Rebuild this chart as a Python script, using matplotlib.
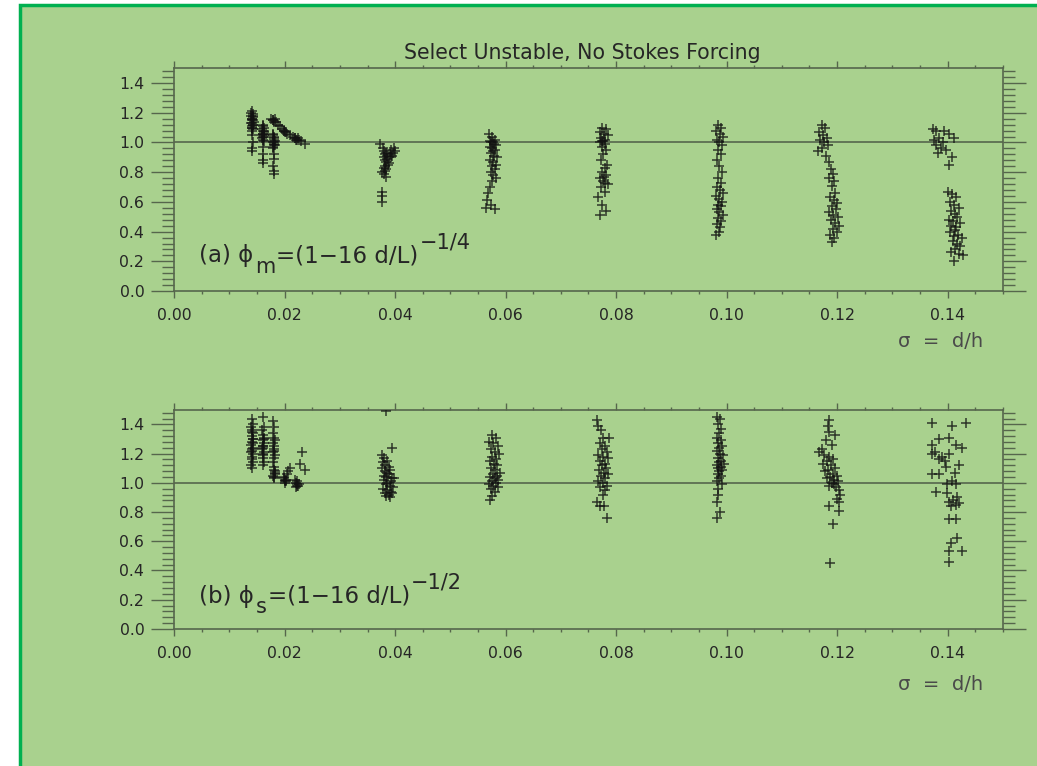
import numpy as np
import matplotlib.pyplot as plt
from matplotlib.ticker import MultipleLocator, FormatStrFormatter
from matplotlib.patches import Rectangle

# colours
BG = '#a9d18e'
EDGE = '#00b050'
AXC = '#56664c'
TXT = '#262626'
PTS = '#111111'

# ---- (a) phi_m = (1-16 d/L)^(-1/4), grouped by sigma = d/h run ----
sig_a1 = [0.0140, 0.0142, 0.0139, 0.0143, 0.0141, 0.0140, 0.0144, 0.0139,
          0.0142, 0.0141, 0.0140, 0.0143, 0.0141, 0.0142, 0.0140, 0.0141,
          0.0139, 0.0142, 0.0141, 0.0143, 0.0140, 0.0142, 0.0141, 0.0140]
phi_a1 = [1.21, 1.19, 1.18, 1.17, 1.16, 1.15, 1.14, 1.13,
          1.12, 1.11, 1.10, 1.09, 1.05, 1.00, 0.96, 0.94,
          1.20, 1.18, 1.16, 1.15, 1.13, 1.12, 1.10, 1.08]

sig_a2 = [0.0160, 0.0162, 0.0159, 0.0161, 0.0163, 0.0160, 0.0162, 0.0161,
          0.0159, 0.0162, 0.0160, 0.0161, 0.0160, 0.0161, 0.0160, 0.0162,
          0.0161, 0.0159, 0.0163, 0.0161]
phi_a2 = [1.12, 1.10, 1.09, 1.08, 1.07, 1.06, 1.05, 1.04,
          1.03, 1.01, 0.97, 0.92, 0.88, 0.86, 1.11, 1.08,
          1.06, 1.05, 1.04, 1.02]

sig_a3 = [0.0178, 0.0180, 0.0179, 0.0181, 0.0180, 0.0182, 0.0179, 0.0181,
          0.0180, 0.0178, 0.0181, 0.0180, 0.0179, 0.0180, 0.0181, 0.0179,
          0.0181, 0.0180, 0.0182, 0.0178]
phi_a3 = [1.15, 1.14, 1.06, 1.04, 1.03, 1.01, 1.00, 0.99,
          0.98, 0.96, 0.92, 0.89, 0.84, 0.81, 0.79, 1.05,
          1.02, 1.00, 0.98, 0.97]

sig_a4 = [0.0176, 0.0184, 0.0187, 0.0192, 0.0196, 0.0199, 0.0202, 0.0205,
          0.0210, 0.0215, 0.0219, 0.0222, 0.0225, 0.0230, 0.0236, 0.0179,
          0.0182, 0.0198, 0.0201, 0.0219, 0.0221, 0.0224]
phi_a4 = [1.16, 1.14, 1.12, 1.11, 1.09, 1.08, 1.07, 1.06,
          1.05, 1.04, 1.03, 1.02, 1.02, 1.01, 0.99, 1.15,
          1.16, 1.08, 1.07, 1.03, 1.02, 1.03]

sig_a5 = [0.0373, 0.0378, 0.0380, 0.0383, 0.0386, 0.0390, 0.0393, 0.0396,
          0.0398, 0.0400, 0.0379, 0.0382, 0.0385, 0.0388, 0.0392, 0.0395,
          0.0381, 0.0384, 0.0387, 0.0377, 0.0380, 0.0383, 0.0376, 0.0377,
          0.0376, 0.0381, 0.0384, 0.0379, 0.0382]
phi_a5 = [0.99, 0.96, 0.94, 0.93, 0.91, 0.92, 0.95, 0.93,
          0.96, 0.94, 0.90, 0.88, 0.89, 0.86, 0.90, 0.91,
          0.84, 0.82, 0.85, 0.80, 0.79, 0.77, 0.67, 0.64,
          0.60, 0.92, 0.87, 0.83, 0.81]

sig_a6 = [0.0570, 0.0575, 0.0580, 0.0572, 0.0578, 0.0583, 0.0571, 0.0576,
          0.0581, 0.0574, 0.0579, 0.0584, 0.0572, 0.0577, 0.0582, 0.0575,
          0.0580, 0.0573, 0.0578, 0.0583, 0.0576, 0.0571, 0.0568, 0.0566,
          0.0573, 0.0580, 0.0565, 0.0574, 0.0579, 0.0577]
phi_a6 = [1.06, 1.04, 1.02, 1.01, 1.00, 0.98, 0.97, 0.96,
          0.95, 0.93, 0.91, 0.90, 0.88, 0.87, 0.85, 0.84,
          0.82, 0.80, 0.78, 0.76, 0.74, 0.70, 0.66, 0.61,
          0.58, 0.55, 0.56, 1.00, 0.99, 0.94]

sig_a7 = [0.0775, 0.0782, 0.0770, 0.0778, 0.0785, 0.0773, 0.0780, 0.0776,
          0.0771, 0.0779, 0.0774, 0.0781, 0.0777, 0.0772, 0.0784, 0.0779,
          0.0775, 0.0782, 0.0770, 0.0777, 0.0786, 0.0773, 0.0779, 0.0768,
          0.0775, 0.0781, 0.0771, 0.0774, 0.0778, 0.0780]
phi_a7 = [1.10, 1.09, 1.07, 1.06, 1.05, 1.03, 1.02, 1.01,
          1.00, 0.99, 0.97, 0.95, 0.92, 0.88, 0.85, 0.83,
          0.80, 0.78, 0.76, 0.74, 0.72, 0.70, 0.67, 0.63,
          0.58, 0.54, 0.51, 1.01, 0.77, 0.73]

sig_a8 = [0.0985, 0.0990, 0.0980, 0.0988, 0.0993, 0.0983, 0.0987, 0.0991,
          0.0984, 0.0989, 0.0982, 0.0986, 0.0992, 0.0985, 0.0990, 0.0983,
          0.0988, 0.0994, 0.0981, 0.0986, 0.0991, 0.0984, 0.0989, 0.0982,
          0.0987, 0.0993, 0.0985, 0.0990, 0.0983, 0.0988, 0.0986, 0.0981]
phi_a8 = [1.12, 1.10, 1.08, 1.06, 1.04, 1.02, 1.00, 0.98,
          0.95, 0.92, 0.88, 0.84, 0.80, 0.76, 0.73, 0.70,
          0.68, 0.66, 0.64, 0.62, 0.60, 0.58, 0.57, 0.55,
          0.53, 0.51, 0.49, 0.47, 0.45, 0.43, 0.40, 0.38]

sig_a9 = [0.1172, 0.1178, 0.1168, 0.1175, 0.1182, 0.1170, 0.1177, 0.1183,
          0.1173, 0.1165, 0.1180, 0.1186, 0.1189, 0.1193, 0.1185, 0.1195,
          0.1190, 0.1197, 0.1188, 0.1194, 0.1200, 0.1191, 0.1198, 0.1186,
          0.1193, 0.1202, 0.1189, 0.1196, 0.1204, 0.1192, 0.1199, 0.1187,
          0.1195, 0.1190]
phi_a9 = [1.12, 1.10, 1.07, 1.05, 1.03, 1.02, 1.00, 0.98,
          0.96, 0.94, 0.91, 0.87, 0.82, 0.79, 0.76, 0.74,
          0.71, 0.66, 0.63, 0.61, 0.59, 0.57, 0.55, 0.53,
          0.51, 0.50, 0.48, 0.46, 0.44, 0.42, 0.40, 0.38,
          0.36, 0.33]

sig_a10 = [0.1373, 0.1380, 0.1394, 0.1402, 0.1376, 0.1385, 0.1391, 0.1379,
           0.1388, 0.1397, 0.1412, 0.1383, 0.1408, 0.1403,
           0.1400, 0.1408, 0.1415, 0.1404, 0.1412, 0.1420, 0.1406, 0.1414,
           0.1418, 0.1402, 0.1410, 0.1422, 0.1407, 0.1416, 0.1413, 0.1405,
           0.1419, 0.1411, 0.1426, 0.1409, 0.1417, 0.1423, 0.1413, 0.1406,
           0.1420, 0.1428, 0.1412]
phi_a10 = [1.09, 1.08, 1.08, 1.06, 1.02, 1.03, 1.00, 0.98,
           0.96, 0.95, 1.03, 0.93, 0.90, 0.85,
           0.67, 0.65, 0.63, 0.60, 0.58, 0.56, 0.54, 0.52,
           0.50, 0.48, 0.47, 0.46, 0.44, 0.43, 0.41, 0.40,
           0.38, 0.37, 0.36, 0.34, 0.32, 0.30, 0.28, 0.26,
           0.25, 0.24, 0.20]

# ---- (b) phi_s = (1-16 d/L)^(-1/2) ----
sig_b1 = [0.0140, 0.0142, 0.0139, 0.0141, 0.0143, 0.0140, 0.0142, 0.0141,
          0.0139, 0.0143, 0.0140, 0.0142, 0.0141, 0.0140, 0.0142, 0.0139,
          0.0141, 0.0143, 0.0140, 0.0142, 0.0141, 0.0139]
phi_b1 = [1.44, 1.40, 1.38, 1.36, 1.34, 1.32, 1.30, 1.28,
          1.26, 1.24, 1.22, 1.20, 1.18, 1.16, 1.14, 1.12,
          1.10, 1.30, 1.35, 1.27, 1.23, 1.21]

sig_b2 = [0.0160, 0.0162, 0.0159, 0.0161, 0.0163, 0.0160, 0.0162, 0.0161,
          0.0159, 0.0162, 0.0160, 0.0161, 0.0163, 0.0160, 0.0161, 0.0162,
          0.0160, 0.0161]
phi_b2 = [1.45, 1.38, 1.36, 1.33, 1.31, 1.29, 1.27, 1.25,
          1.23, 1.21, 1.19, 1.17, 1.14, 1.12, 1.25, 1.30,
          1.24, 1.20]

sig_b3 = [0.0179, 0.0181, 0.0178, 0.0180, 0.0182, 0.0179, 0.0181, 0.0180,
          0.0178, 0.0182, 0.0180, 0.0179, 0.0181, 0.0180, 0.0182, 0.0179,
          0.0181, 0.0180, 0.0183, 0.0181, 0.0182]
phi_b3 = [1.42, 1.38, 1.34, 1.31, 1.29, 1.27, 1.25, 1.23,
          1.21, 1.19, 1.17, 1.14, 1.11, 1.09, 1.07, 1.05,
          1.03, 1.22, 1.06, 1.04, 1.08]

sig_b4 = [0.0199, 0.0201, 0.0203, 0.0200, 0.0202, 0.0198, 0.0206, 0.0210,
          0.0204, 0.0220, 0.0222, 0.0224, 0.0221, 0.0223, 0.0225, 0.0231,
          0.0236, 0.0228, 0.0219, 0.0200, 0.0222]
phi_b4 = [1.03, 1.02, 1.01, 1.00, 1.02, 1.04, 1.08, 1.10,
          1.06, 1.00, 0.99, 0.98, 0.97, 1.01, 0.99, 1.21,
          1.09, 1.13, 1.02, 1.01, 0.98]

sig_b5 = [0.0383, 0.0395, 0.0376, 0.0380, 0.0385, 0.0378, 0.0382, 0.0388,
          0.0377, 0.0381, 0.0386, 0.0391, 0.0379, 0.0384, 0.0389, 0.0394,
          0.0380, 0.0386, 0.0392, 0.0397, 0.0383, 0.0390, 0.0396, 0.0378,
          0.0385, 0.0393, 0.0381, 0.0388, 0.0395, 0.0384, 0.0391]
phi_b5 = [1.49, 1.24, 1.19, 1.17, 1.15, 1.14, 1.12, 1.11,
          1.10, 1.08, 1.07, 1.09, 1.05, 1.04, 1.06, 1.03,
          1.02, 1.00, 1.01, 1.03, 0.99, 0.98, 0.97, 0.96,
          0.95, 0.94, 0.93, 0.92, 0.93, 0.91, 0.90]

sig_b6 = [0.0575, 0.0582, 0.0570, 0.0578, 0.0586, 0.0573, 0.0580, 0.0588,
          0.0576, 0.0583, 0.0571, 0.0579, 0.0585, 0.0574, 0.0581, 0.0589,
          0.0577, 0.0584, 0.0572, 0.0580, 0.0587, 0.0575, 0.0582, 0.0569,
          0.0578, 0.0586, 0.0573, 0.0581, 0.0576, 0.0571]
phi_b6 = [1.33, 1.31, 1.28, 1.27, 1.25, 1.23, 1.21, 1.20,
          1.18, 1.16, 1.15, 1.13, 1.12, 1.10, 1.09, 1.07,
          1.06, 1.05, 1.04, 1.03, 1.02, 1.01, 1.00, 0.99,
          0.98, 0.97, 0.96, 0.94, 0.91, 0.88]

sig_b7 = [0.0766, 0.0768, 0.0772, 0.0776, 0.0788, 0.0770, 0.0779, 0.0774,
          0.0783, 0.0768, 0.0777, 0.0785, 0.0771, 0.0780, 0.0775, 0.0782,
          0.0769, 0.0778, 0.0786, 0.0773, 0.0780, 0.0767, 0.0776, 0.0784,
          0.0771, 0.0779, 0.0776, 0.0765, 0.0770, 0.0778, 0.0783]
phi_b7 = [1.43, 1.39, 1.36, 1.31, 1.31, 1.27, 1.25, 1.23,
          1.21, 1.19, 1.18, 1.17, 1.15, 1.13, 1.12, 1.10,
          1.09, 1.07, 1.06, 1.05, 1.03, 1.01, 1.00, 0.98,
          0.97, 0.95, 0.92, 0.87, 0.84, 0.84, 0.76]

sig_b8 = [0.0982, 0.0988, 0.0984, 0.0990, 0.0986, 0.0983, 0.0989, 0.0985,
          0.0991, 0.0987, 0.0982, 0.0988, 0.0993, 0.0984, 0.0990, 0.0986,
          0.0995, 0.0983, 0.0989, 0.0985, 0.0992, 0.0987, 0.0984, 0.0990,
          0.0986, 0.0983, 0.0991, 0.0985, 0.0984, 0.0983, 0.0988, 0.0982]
phi_b8 = [1.45, 1.44, 1.40, 1.37, 1.34, 1.31, 1.29, 1.27,
          1.25, 1.24, 1.22, 1.20, 1.19, 1.17, 1.15, 1.14,
          1.13, 1.12, 1.11, 1.10, 1.09, 1.08, 1.06, 1.05,
          1.03, 1.01, 0.99, 0.96, 0.92, 0.87, 0.80, 0.76]

sig_b9 = [0.1186, 0.1183, 0.1185, 0.1197, 0.1172, 0.1168, 0.1180, 0.1190,
          0.1177, 0.1186, 0.1193, 0.1182, 0.1175, 0.1189, 0.1196, 0.1184,
          0.1179, 0.1192, 0.1199, 0.1187, 0.1181, 0.1194, 0.1201, 0.1190,
          0.1185, 0.1198, 0.1203, 0.1195, 0.1206, 0.1200, 0.1204, 0.1186,
          0.1204, 0.1193, 0.1188]
phi_b9 = [1.43, 1.39, 1.35, 1.33, 1.23, 1.21, 1.29, 1.26,
          1.19, 1.18, 1.16, 1.15, 1.13, 1.12, 1.10, 1.09,
          1.08, 1.06, 1.05, 1.04, 1.03, 1.02, 1.01, 1.00,
          0.98, 0.97, 0.95, 0.99, 0.92, 0.89, 0.87, 0.84,
          0.81, 0.72, 0.45]

sig_b10 = [0.1372, 0.1408, 0.1434, 0.1385, 0.1403, 0.1372, 0.1416, 0.1427,
           0.1378, 0.1403, 0.1371, 0.1385, 0.1398, 0.1421, 0.1371, 0.1385,
           0.1414, 0.1408, 0.1399, 0.1416, 0.1380, 0.1399, 0.1418, 0.1403,
           0.1410, 0.1415, 0.1407, 0.1420, 0.1403, 0.1416, 0.1407, 0.1417,
           0.1403, 0.1427, 0.1403, 0.1390, 0.1395]
phi_b10 = [1.41, 1.39, 1.41, 1.30, 1.31, 1.26, 1.26, 1.24,
           1.21, 1.20, 1.20, 1.16, 1.11, 1.12, 1.06, 1.06,
           1.07, 1.01, 0.99, 0.99, 0.94, 0.93, 0.90, 0.87,
           0.88, 0.85, 0.84, 0.86, 0.75, 0.75, 0.59, 0.62,
           0.53, 0.53, 0.46, 1.18, 1.15]

sig_a = np.concatenate([sig_a1, sig_a2, sig_a3, sig_a4, sig_a5,
                        sig_a6, sig_a7, sig_a8, sig_a9, sig_a10])
phi_a = np.concatenate([phi_a1, phi_a2, phi_a3, phi_a4, phi_a5,
                        phi_a6, phi_a7, phi_a8, phi_a9, phi_a10])
sig_b = np.concatenate([sig_b1, sig_b2, sig_b3, sig_b4, sig_b5,
                        sig_b6, sig_b7, sig_b8, sig_b9, sig_b10])
phi_b = np.concatenate([phi_b1, phi_b2, phi_b3, phi_b4, phi_b5,
                        phi_b6, phi_b7, phi_b8, phi_b9, phi_b10])


def style_axes(ax):
    ax.set_facecolor('none')
    ax.set_xlim(0.0, 0.15)
    ax.set_ylim(0.0, 1.5)
    ax.xaxis.set_major_locator(MultipleLocator(0.02))
    ax.xaxis.set_minor_locator(MultipleLocator(0.005))
    ax.yaxis.set_major_locator(MultipleLocator(0.2))
    ax.yaxis.set_minor_locator(MultipleLocator(0.04))
    ax.xaxis.set_major_formatter(FormatStrFormatter('%.2f'))
    ax.yaxis.set_major_formatter(FormatStrFormatter('%.1f'))
    ax.set_yticks([0.0, 0.2, 0.4, 0.6, 0.8, 1.0, 1.2, 1.4])
    for s in ax.spines.values():
        s.set_color(AXC)
        s.set_linewidth(1.2)
    ax.tick_params(which='both', direction='out', top=True, right=True,
                   color=AXC, width=1.0, labelcolor=TXT, labelsize=11.3)
    ax.xaxis.set_tick_params(which='major', length=5, pad=7)
    ax.xaxis.set_tick_params(which='minor', length=2.5)
    ax.yaxis.set_tick_params(which='major', length=16.5, pad=5)
    ax.yaxis.set_tick_params(which='minor', length=8.5)
    ax.axhline(1.0, color=AXC, lw=1.2, zorder=1)


def formula(ax, x, y, tag, sub, power):
    # label built from pieces so the sub/superscripts stay near full size
    fs = 16.5
    small = 15
    t1 = ax.text(x, y, '(%s) ϕ' % tag, fontsize=fs, color=TXT, va='bottom')
    t2 = ax.annotate(sub, xy=(1, 0), xycoords=t1, xytext=(1, -3.8),
                     textcoords='offset points', fontsize=small, color=TXT,
                     va='baseline')
    t3 = ax.annotate('=(1−16 d/L)', xy=(1, 0), xycoords=(t2, t1),
                     xytext=(1, 0), textcoords='offset points',
                     fontsize=fs, color=TXT, va='bottom')
    ax.annotate(power, xy=(1, 0), xycoords=(t3, t1), xytext=(1, 13.5),
                textcoords='offset points', fontsize=small, color=TXT,
                va='baseline')


def main():
    fig = plt.figure(figsize=(10.37, 7.66), dpi=100)
    fig.patch.set_facecolor('white')
    # green panel behind both plots
    fig.patches.append(Rectangle((20 / 1037, -0.02), 1.05, 1.02 - 5 / 766,
                                 transform=fig.transFigure, facecolor=BG,
                                 edgecolor=EDGE, lw=2.5, zorder=-10))

    ax1 = fig.add_axes([0.168, 0.620, 0.799, 0.291])
    ax2 = fig.add_axes([0.168, 0.179, 0.799, 0.286])

    for ax, x, y in [(ax1, sig_a, phi_a), (ax2, sig_b, phi_b)]:
        style_axes(ax)
        ax.plot(x, y, '+', color=PTS, ms=6.5, mew=1.1, alpha=0.8, zorder=3)

    formula(ax1, 0.0045, 0.16, 'a', 'm', '−1/4')
    formula(ax2, 0.0045, 0.145, 'b', 's', '−1/2')

    fig.text(0.562, 0.931, 'Select Unstable, No Stokes Forcing',
             ha='center', va='center', fontsize=14.8, color=TXT)
    fig.text(0.907, 1 - 341 / 766, 'σ  =  d/h', ha='center', va='center',
             fontsize=14, color='#4a4a4a')
    fig.text(0.907, 1 - 685 / 766, 'σ  =  d/h', ha='center', va='center',
             fontsize=14, color='#4a4a4a')

    fig.savefig('out.png', dpi=100, facecolor=fig.get_facecolor())


if __name__ == '__main__':
    main()
